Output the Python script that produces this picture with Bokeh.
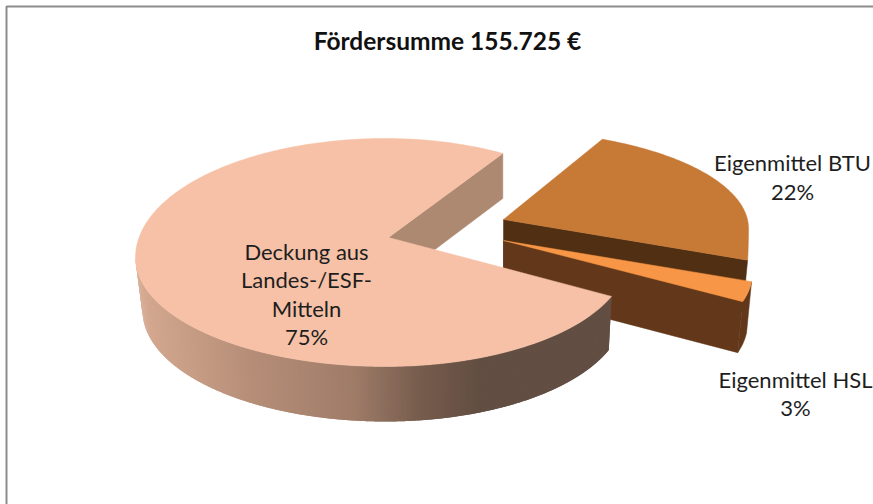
import numpy as np
from bokeh.plotting import figure
from bokeh.models import Range1d
from bokeh.core.properties import value
from bokeh.embed import file_html
from bokeh.resources import INLINE

title = "Fördersumme 155.725 €"
categories = ["Deckung aus Landes-/ESF-Mitteln", "Eigenmittel BTU", "Eigenmittel HSL"]
shares = [75, 22, 3]
label_lines = [["Deckung aus", "Landes-/ESF-", "Mitteln", "75%"],
               ["Eigenmittel BTU", "22%"],
               ["Eigenmittel HSL", "3%"]]
colors_top = ["#F6C1A6", "#C77936", "#F79646"]
colors_cut = ["#AE8972", "#512F13", "#63381A"]

W, H = 873, 504
DEG_PER_SHARE = 3.6 * 1.03  # foreshortening of the tilted pie

p = figure(width=W, height=H, output_backend="svg", toolbar_location=None,
           x_range=Range1d(0, W), y_range=Range1d(H, 0), min_border=0,
           outline_line_color=None, background_fill_color="white")
p.axis.visible = False
p.grid.visible = False


def arc(t0, t1, cx, cy, al, ar, bu, bl, flat=1.0, n=120):
    t = np.radians(np.linspace(t0, t1, n))
    c, s = np.cos(t), np.sin(t)
    x = cx + np.where(c < 0, al, ar) * np.where(s < 0, np.cos(t * flat), c)
    y = cy - np.where(s > 0, bu, bl) * s
    return x, y


def mix(stops, x):
    xs = [q[0] for q in stops]
    return "#%02x%02x%02x" % tuple(int(np.interp(x, xs, [q[1][i] for q in stops])) for i in range(3))


# frame
p.line([W + 5, 6, 6], [6, 6, H + 5], line_color="#8C8C8C", line_width=2)

# --- exploded BTU slice ---
btu_t0 = 65.6
btu_t1 = btu_t0 - shares[1] * DEG_PER_SHARE
bx, by = arc(btu_t0, btu_t1, 499, 228, 249, 249, 98, 115, flat=0.3)
btu_apex = (503, 219)
depth = (-5, 51)
p.patch([btu_apex[0], bx[-1], bx[-1] + depth[0], btu_apex[0]],
        [btu_apex[1], by[-1], by[-1] + depth[1], btu_apex[1] + depth[1]],
        fill_color=colors_cut[1], line_color=colors_cut[1], line_width=0.5)
p.patch(np.r_[btu_apex[0], bx], np.r_[btu_apex[1], by], fill_color=colors_top[1],
        line_color=colors_top[1], line_width=0.5)

# --- exploded HSL slice ---
hsl_t0 = -5
hsl_t1 = hsl_t0 - shares[2] * DEG_PER_SHARE
hx, hy = arc(hsl_t0, hsl_t1, 503, 272, 249, 249, 105, 105, n=12)
hsl_apex = (503, 240)
p.patch([hsl_apex[0], hx[-1], hx[-1] + depth[0], hsl_apex[0]],
        [hsl_apex[1], hy[-1], hy[-1] + depth[1], hsl_apex[1] + depth[1]],
        fill_color=colors_cut[2], line_color=colors_cut[2], line_width=0.5)
p.patch(np.r_[hx, (hx + depth[0])[::-1]], np.r_[hy, (hy + depth[1])[::-1]],
        fill_color=colors_cut[2], line_color=colors_cut[2], line_width=0.5)
p.patch(np.r_[hsl_apex[0], hx], np.r_[hsl_apex[1], hy], fill_color=colors_top[2],
        line_color=colors_top[2], line_width=0.5)

# --- main slice ---
main_t0 = 61.0
main_t1 = main_t0 + shares[0] * DEG_PER_SHARE
main_apex = (388, 237)
tx, ty = arc(main_t0, main_t1, 385, 257, 250, 242, 119, 109, n=300)

# inner cut face seen through the gap
p.patch([main_apex[0], tx[0], tx[0], main_apex[0]],
        [main_apex[1], ty[0], ty[0] + 45, main_apex[1] + 47],
        fill_color=colors_cut[0], line_color=colors_cut[0], line_width=0.5)

# outer wall with its horizontal shading; each strip runs on under the next one
shade = [(135, (214, 170, 145)), (250, (182, 142, 120)), (350, (160, 125, 105)),
         (420, (118, 92, 77)), (480, (98, 78, 66)), (612, (99, 79, 68))]
edges = np.linspace(180, main_t1, 260)
wx, wy, wc = [], [], []
for i, a in enumerate(edges[:-1]):
    b = edges[min(i + 2, len(edges) - 1)]
    x0, y0 = arc(a, b, 385, 257, 250, 242, 119, 109, n=4)
    x1, y1 = arc(a, b, 385, 310, 243, 239, 111, 111, n=4)
    wx.append(np.r_[x0, x1[::-1]])
    wy.append(np.r_[y0, y1[::-1]])
    wc.append(mix(shade, x0[0]))
p.patches(wx, wy, fill_color=wc, line_color=None)

p.patch(np.r_[main_apex[0], tx], np.r_[main_apex[1], ty], fill_color=colors_top[0],
        line_color=colors_top[0], line_width=0.5)

# --- texts ---
FONT = value("Lato")
TEXT = "#1E1E1E"
p.text([447], [40], text=[title], text_font=FONT, text_font_style="bold",
       text_font_size="24.5px", text_color="#111111", text_align="center", text_baseline="middle")

anchors = [(306, 251, 28.4), (792, 162, 29), (795, 379, 28)]
for lines, (ax, ay, step) in zip(label_lines, anchors):
    p.text([ax] * len(lines), [ay + i * step for i in range(len(lines))], text=lines,
           text_font=FONT, text_font_size="22px", text_color=TEXT,
           text_align="center", text_baseline="middle")

open("out.html", "w").write(file_html(p, INLINE))
